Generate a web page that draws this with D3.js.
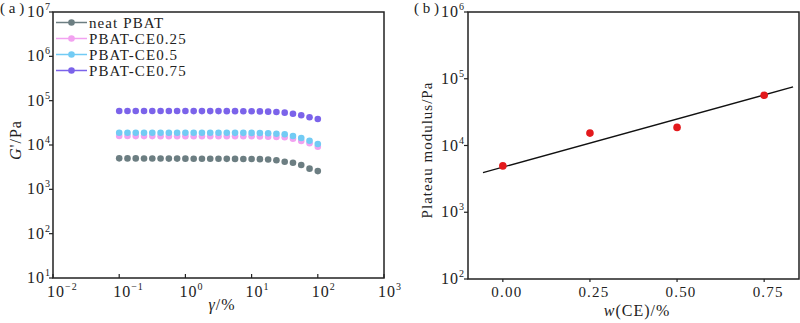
<!DOCTYPE html>
<html><head><meta charset="utf-8">
<script src="https://cdn.jsdelivr.net/npm/d3@7"></script>
<style>
html,body{margin:0;padding:0;background:#fff;}
svg text{font-family:"Liberation Serif","DejaVu Serif",serif;fill:#222;}
</style></head>
<body><svg id="c" width="800" height="323"></svg>
<script>
// ---------- data (panel a) ----------
const strain = [0.1,0.1334,0.1778,0.2371,0.3162,0.4217,0.5623,0.7499,1,1.334,1.778,2.371,3.162,4.217,5.623,7.499,10,13.34,17.78,23.71,31.62,42.17,56.23,74.99,100];
const seriesNames = ["neat PBAT","PBAT-CE0.25","PBAT-CE0.5","PBAT-CE0.75"];
const seriesColors = ["#6c7e82","#f2a2f0","#72cbf4","#7b63ea"];
const gNeat = [5000,4990,4980,4970,4960,4950,4940,4930,4920,4910,4900,4890,4880,4870,4860,4850,4830,4800,4720,4520,4200,3980,3530,2930,2580];
const gCE025 = [15900,15900,15880,15870,15860,15850,15840,15830,15820,15810,15800,15790,15780,15770,15760,15740,15700,15600,15400,15200,14930,13870,12300,10910,9160];
const gCE05 = [18950,18950,18940,18930,18920,18910,18900,18890,18880,18870,18860,18850,18840,18830,18820,18800,18750,18650,18400,18000,17460,15960,14390,12500,10550];
const gCE075 = [58500,58500,58450,58400,58400,58350,58300,58300,58250,58200,58200,58150,58100,58050,58000,57900,57700,57300,56600,55600,53600,50800,46800,42200,38700];
const seriesValues = [gNeat,gCE025,gCE05,gCE075];
const xTicksA = [-2,-1,0,1,2,3];
const yTicksA = [1,2,3,4,5,6,7];
// ---------- data (panel b) ----------
const ceContent = [0,0.25,0.5,0.75];
const plateau = [4950,15350,18660,56500];
const fitX = [-0.057,0.833];
const fitY = [3930,75500];
const xTicksB = [0,0.25,0.5,0.75];
const yTicksB = [2,3,4,5,6];

const svg = d3.select("#c");

function supLabel(sel, exp){
  sel.append("tspan").text("10");
  sel.append("tspan").attr("font-size",10).attr("dy",-7).text(exp);
}

// ---------- panel a ----------
const A = {l:53,r:384,t:12,b:278};
const xa = d3.scaleLog().domain([1e-2,1e3]).range([A.l,A.r]);
const ya = d3.scaleLog().domain([1e1,1e7]).range([A.b,A.t]);
const ga = svg.append("g");
// ticks
ga.selectAll(".xt").data(xTicksA).join("line")
  .attr("x1",d=>xa(Math.pow(10,d))).attr("x2",d=>xa(Math.pow(10,d)))
  .attr("y1",A.b).attr("y2",A.b-4).attr("stroke","#222").attr("stroke-width",1.2);
ga.selectAll(".yt").data(yTicksA).join("line")
  .attr("x1",A.l).attr("x2",A.l-4)
  .attr("y1",d=>ya(Math.pow(10,d))).attr("y2",d=>ya(Math.pow(10,d))).attr("stroke","#222").attr("stroke-width",1.2);
ga.selectAll(".xl").data(xTicksA).join("text")
  .attr("x",d=>xa(Math.pow(10,d))-6).attr("y",297).attr("font-size",16).attr("letter-spacing",1)
  .each(function(d){ supLabel(d3.select(this), d<0 ? "\u2212"+(-d) : String(d)); });
ga.selectAll(".yl").data(yTicksA).join("text")
  .attr("x",51).attr("y",d=>ya(Math.pow(10,d))+5).attr("font-size",16).attr("text-anchor","end").attr("letter-spacing",1)
  .each(function(d){ supLabel(d3.select(this), String(d)); });
// series
seriesValues.forEach((vals,i)=>{
  ga.append("g").selectAll("circle").data(vals).join("circle")
    .attr("cx",(d,j)=>xa(strain[j])).attr("cy",d=>ya(d)).attr("r",3.3)
    .attr("fill",seriesColors[i]);
});
// legend
const leg = ga.append("g");
seriesNames.forEach((n,i)=>{
  const y = 22.5 + i*16;
  leg.append("line").attr("x1",56).attr("x2",87).attr("y1",y).attr("y2",y).attr("stroke",seriesColors[i]).attr("stroke-width",1.5);
  leg.append("circle").attr("cx",71.5).attr("cy",y).attr("r",3.3).attr("fill",seriesColors[i]);
  leg.append("text").attr("x",89).attr("y",y+5).attr("font-size",15).attr("letter-spacing",1.1).text(n);
});
// frame
ga.append("rect").attr("x",A.l).attr("y",A.t).attr("width",A.r-A.l).attr("height",A.b-A.t)
  .attr("fill","none").attr("stroke","#222").attr("stroke-width",1.5);
// titles
const xtA = ga.append("text").attr("x",222).attr("y",310).attr("font-size",16).attr("text-anchor","middle").attr("letter-spacing",1);
xtA.append("tspan").attr("font-style","italic").text("γ");
xtA.append("tspan").text("/%");
const ytA = ga.append("text").attr("transform","translate(21,140) rotate(-90)").attr("font-size",16).attr("text-anchor","middle").attr("letter-spacing",1);
ytA.append("tspan").attr("font-style","italic").text("G");
ytA.append("tspan").text("'/Pa");
ga.append("text").attr("x",0).attr("y",13).attr("font-size",15).text("( a )");

// ---------- panel b ----------
const B = {l:468,r:799,t:12,b:279};
const xb = d3.scaleLinear().domain([-0.1,0.85]).range([B.l,B.r]);
const yb = d3.scaleLog().domain([1e2,1e6]).range([B.b,B.t]);
const gb = svg.append("g");
gb.selectAll(".xt").data(xTicksB).join("line")
  .attr("x1",d=>xb(d)).attr("x2",d=>xb(d)).attr("y1",B.b).attr("y2",B.b+3).attr("stroke","#222").attr("stroke-width",1.2);
gb.selectAll(".yt").data(yTicksB).join("line")
  .attr("x1",B.l).attr("x2",B.l-4)
  .attr("y1",d=>yb(Math.pow(10,d))).attr("y2",d=>yb(Math.pow(10,d))).attr("stroke","#222").attr("stroke-width",1.2);
gb.selectAll(".xl").data(xTicksB).join("text")
  .attr("x",d=>xb(d)+4).attr("y",297).attr("font-size",15).attr("text-anchor","middle").attr("letter-spacing",1.2)
  .text(d=>d3.format(".2f")(d));
gb.selectAll(".yl").data(yTicksB).join("text")
  .attr("x",465).attr("y",d=>yb(Math.pow(10,d))+5).attr("font-size",16).attr("text-anchor","end").attr("letter-spacing",1)
  .each(function(d){ supLabel(d3.select(this), String(d)); });
gb.append("path").datum(fitX.map((x,i)=>[x,fitY[i]]))
  .attr("d",d3.line().x(d=>xb(d[0])).y(d=>yb(d[1])))
  .attr("stroke","#111").attr("stroke-width",1.4).attr("fill","none");
gb.selectAll("circle").data(ceContent).join("circle")
  .attr("cx",d=>xb(d)).attr("cy",(d,i)=>yb(plateau[i])).attr("r",3.8).attr("fill","#e3191c");
gb.append("rect").attr("x",B.l).attr("y",B.t).attr("width",B.r-B.l).attr("height",B.b-B.t)
  .attr("fill","none").attr("stroke","#222").attr("stroke-width",1.5);
const xtB = gb.append("text").attr("x",637).attr("y",316).attr("font-size",16).attr("text-anchor","middle").attr("letter-spacing",1);
xtB.append("tspan").attr("font-style","italic").text("w");
xtB.append("tspan").text("(CE)/%");
gb.append("text").attr("transform","translate(432,150) rotate(-90)").attr("font-size",15).attr("text-anchor","middle").attr("letter-spacing",1)
  .text("Plateau modulus/Pa");
gb.append("text").attr("x",414).attr("y",13).attr("font-size",15).text("( b )");
</script></body></html>
